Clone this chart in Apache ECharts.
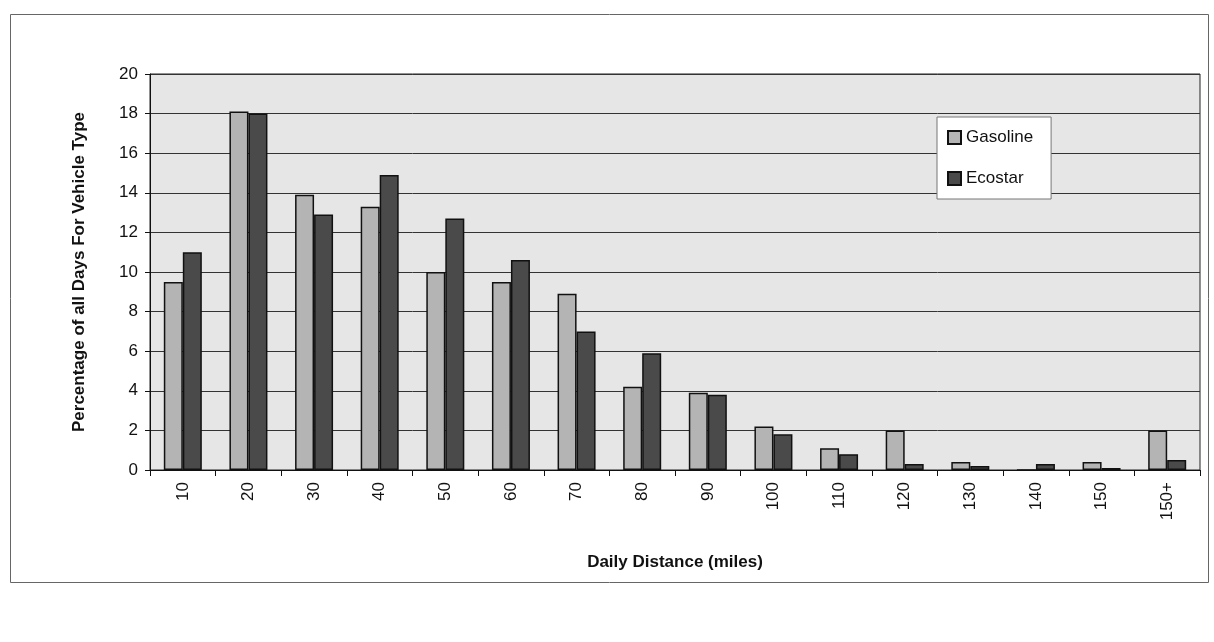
<!DOCTYPE html>
<html>
<head>
<meta charset="utf-8">
<script src="https://cdn.jsdelivr.net/npm/echarts@6/dist/echarts.min.js"></script>
<style>
  html, body { margin: 0; padding: 0; background: #fff; }
  #chart { width: 1214px; height: 642px; }
</style>
</head>
<body>
<div id="chart"></div>
<script>
const distances = ['10', '20', '30', '40', '50', '60', '70', '80', '90', '100', '110', '120', '130', '140', '150', '150+'];
const gasoline = [9.5, 18.1, 13.9, 13.3, 10.0, 9.5, 8.9, 4.2, 3.9, 2.2, 1.1, 2.0, 0.4, 0, 0.4, 2.0];
const ecostar = [11.0, 18.0, 12.9, 14.9, 12.7, 10.6, 7.0, 5.9, 3.8, 1.8, 0.8, 0.3, 0.2, 0.3, 0.1, 0.5];

const font = 'Liberation Sans, Arial, sans-serif';

const chart = echarts.init(document.getElementById('chart'));
chart.setOption({
  animation: false,
  backgroundColor: '#fff',
  textStyle: { fontFamily: font },
  graphic: [
    {
      type: 'rect',
      left: 8, top: 12,
      shape: { width: 1198, height: 568 },
      style: { fill: 'none', stroke: '#666', lineWidth: 1 }
    }
  ],
  grid: {
    left: 150, top: 74, right: 14, bottom: 172,
    show: true,
    backgroundColor: '#e6e6e6',
    borderColor: '#222',
    borderWidth: 1
  },
  legend: {
    orient: 'vertical',
    left: 937, top: 117,
    icon: 'rect',
    itemWidth: 13, itemHeight: 13,
    itemGap: 24,
    padding: [12, 18, 12, 10],
    backgroundColor: '#fff',
    borderColor: '#777',
    borderWidth: 1,
    textStyle: { fontSize: 17, color: '#111', fontFamily: font },
    data: ['Gasoline', 'Ecostar']
  },
  xAxis: {
    type: 'category',
    data: distances,
    name: 'Daily Distance (miles)',
    nameLocation: 'middle',
    nameGap: 84,
    nameTextStyle: { fontSize: 17, fontWeight: 'bold', color: '#111' },
    axisLine: { lineStyle: { color: '#111' } },
    axisTick: { show: true, length: 6, lineStyle: { color: '#111' } },
    axisLabel: { rotate: 90, fontSize: 17, color: '#111', margin: 12 }
  },
  yAxis: {
    type: 'value',
    min: 0, max: 20, interval: 2,
    name: 'Percentage of all Days For Vehicle Type',
    nameLocation: 'middle',
    nameGap: 62,
    nameTextStyle: { fontSize: 17, fontWeight: 'bold', color: '#111' },
    axisLine: { show: true, lineStyle: { color: '#111' } },
    axisTick: { show: true, length: 5, lineStyle: { color: '#111' } },
    axisLabel: { fontSize: 17, color: '#111', margin: 12 },
    splitLine: { lineStyle: { color: '#333', width: 1 } }
  },
  series: [
    {
      name: 'Gasoline',
      type: 'bar',
      data: gasoline,
      barWidth: 19,
      barGap: '0%',
      itemStyle: { color: '#b4b4b4', borderColor: '#111', borderWidth: 1.5 }
    },
    {
      name: 'Ecostar',
      type: 'bar',
      data: ecostar,
      barWidth: 19,
      itemStyle: { color: '#4a4a4a', borderColor: '#111', borderWidth: 1.5 }
    }
  ]
});
</script>
</body>
</html>
